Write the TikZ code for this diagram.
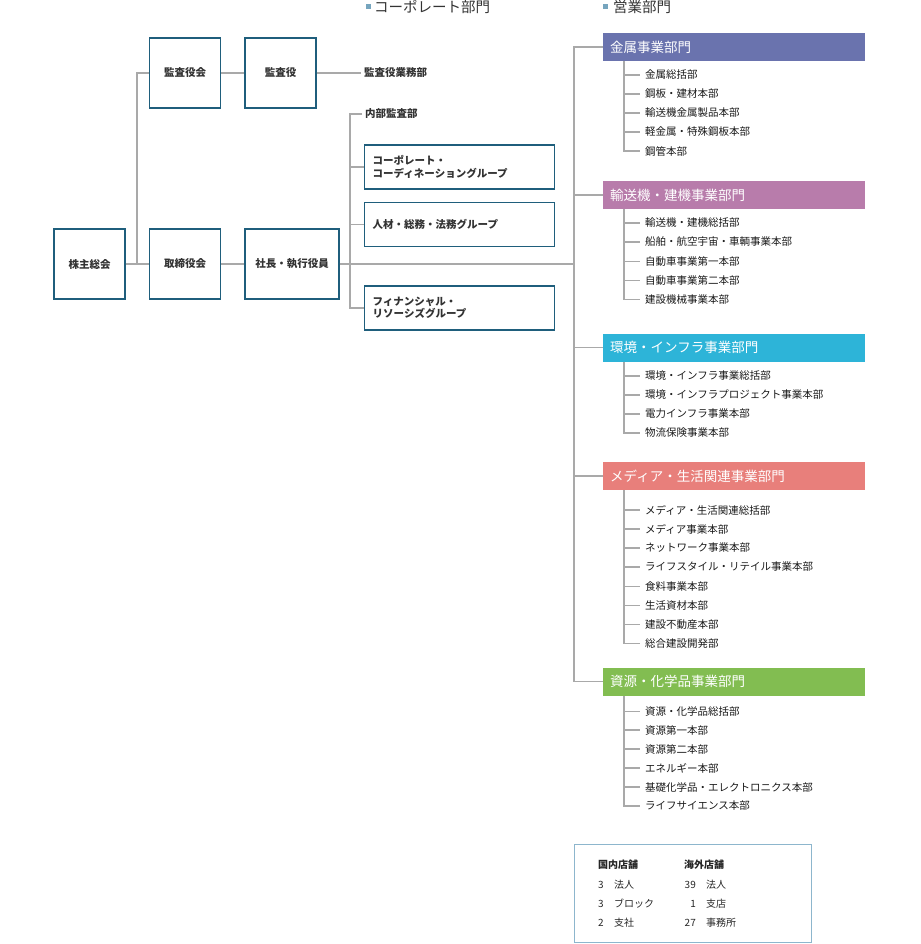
\documentclass[tikz,border=0pt]{standalone}
\usepackage{fontspec}
\setmainfont{Noto Sans CJK JP}
\usetikzlibrary{positioning}

\definecolor{boxblue}{HTML}{1F5E7C}
\definecolor{linegray}{HTML}{A9A9A9}
\definecolor{metalc}{HTML}{6A73AE}
\definecolor{transc}{HTML}{B87CAB}
\definecolor{envc}{HTML}{2DB4D8}
\definecolor{mediac}{HTML}{E87F7B}
\definecolor{chemc}{HTML}{82BD51}
\definecolor{markc}{HTML}{76A5BE}
\definecolor{notec}{HTML}{8DB6CD}

\tikzset{
  orgbox/.style={draw=boxblue, line width=1.4pt, fill=white, inner sep=0pt,
    minimum width=71pt, minimum height=70pt, text=black!80,
    font=\bfseries\fontsize{10.5}{12.5}\selectfont},
  groupbox/.style={draw=boxblue, line width=1.4pt, fill=white, anchor=west,
    inner xsep=8pt, inner ysep=0pt, text width=174pt, align=left,
    minimum height=44pt, text=black!80, font=\bfseries\fontsize{10.5}{12.5}\selectfont},
  plainlabel/.style={anchor=west, inner xsep=3pt, inner ysep=0pt, text=black!80,
    font=\bfseries\fontsize{10.5}{12.5}\selectfont},
  divhead/.style={anchor=west, fill=#1, text=white, inner xsep=7pt, inner ysep=0pt,
    text width=248pt, align=left, minimum height=28pt,
    font=\fontsize{13.5}{15}\selectfont},
  unit/.style={anchor=west, inner xsep=5pt, inner ysep=0pt, text=black!90,
    font=\fontsize{10.5}{12}\selectfont},
  title/.style={anchor=west, inner sep=0pt, text=black!80, font=\fontsize{14.5}{16}\selectfont},
  notetext/.style={anchor=west, inner sep=0pt, text=black!85, font=\fontsize{10}{12}\selectfont},
  conn/.style={draw=linegray, line width=1.1pt}
}

\begin{document}
\begin{tikzpicture}[x=1pt, y=-1pt]
  \useasboundingbox (0,0) rectangle (920,944);

  % Section titles
  \fill[markc] (366,4.5) rectangle (371,9.5);
  \node[title] (corptitle) at (374,7) {コーポレート部門};
  \fill[markc] (603,4.5) rectangle (608,9.5);
  \node[title] (salestitle) at (613,7) {営業部門};

  % Governance boxes
  \node[orgbox] (meeting) at (89.5,264) {株主総会};
  \node[orgbox] (board) at (185,264) {取締役会};
  \node[orgbox, minimum width=94pt] (ceo) at (292,264) {社長・執行役員};
  \node[orgbox] (auditboard) at (185,73) {監査役会};
  \node[orgbox] (auditor) at (280.5,73) {監査役};
  \node[plainlabel] (auditoffice) at (361,73) {監査役業務部};

  \draw[conn] (meeting.east) -- (board.west);
  \draw[conn] (137,264) |- (auditboard.west);
  \draw[conn] (auditboard.east) -- (auditor.west);
  \draw[conn] (auditor.east) -- (auditoffice.west);
  \draw[conn] (board.east) -- (ceo.east -| ceo.west);

  % Corporate departments
  \node[plainlabel] (internal) at (362,114) {内部監査部};
  \node[groupbox] (coord) at (364,167) {コーポレート・\\コーディネーショングループ};
  \node[groupbox] (hr) at (364,224.5) {人材・総務・法務グループ};
  \node[groupbox] (finance) at (364,308) {フィナンシャル・\\リソーシズグループ};

  \coordinate (cv) at (350,0);
  \draw[conn] (internal.west) -| (cv |- finance.west) -- (finance.west);
  \draw[conn] (cv |- coord.west) -- (coord.west);
  \draw[conn] (cv |- hr.west) -- (hr.west);

  % Sales divisions
  \node[divhead=metalc] (metal) at (603,47) {金属事業部門};
  \node[divhead=transc] (trans) at (603,195) {輸送機・建機事業部門};
  \node[divhead=envc] (env) at (603,347.5) {環境・インフラ事業部門};
  \node[divhead=mediac] (media) at (603,476) {メディア・生活関連事業部門};
  \node[divhead=chemc] (chem) at (603,681.5) {資源・化学品事業部門};

  \coordinate (sv) at (574,0);
  \draw[conn] (ceo.east) -- (sv |- ceo.east);
  \draw[conn] (metal.west) -| (sv |- chem.west) -- (chem.west);
  \draw[conn] (sv |- trans.west) -- (trans.west);
  \draw[conn] (sv |- env.west) -- (env.west);
  \draw[conn] (sv |- media.west) -- (media.west);

  \coordinate (uv) at (624,0);

  % 金属
  \node[unit] (m1) at (640,75) {金属総括部};
  \node[unit] (m2) at (640,94) {鋼板・建材本部};
  \node[unit] (m3) at (640,113) {輸送機金属製品本部};
  \node[unit] (m4) at (640,132) {軽金属・特殊鋼板本部};
  \node[unit] (m5) at (640,151) {鋼管本部};
  \draw[conn] (uv |- metal.south) |- (m5.west);
  \draw[conn] (uv |- m1.west) -- (m1.west);
  \draw[conn] (uv |- m2.west) -- (m2.west);
  \draw[conn] (uv |- m3.west) -- (m3.west);
  \draw[conn] (uv |- m4.west) -- (m4.west);

  % 輸送機・建機
  \node[unit] (t1) at (640,223) {輸送機・建機総括部};
  \node[unit] (t2) at (640,242) {船舶・航空宇宙・車輌事業本部};
  \node[unit] (t3) at (640,261.5) {自動車事業第一本部};
  \node[unit] (t4) at (640,280.5) {自動車事業第二本部};
  \node[unit] (t5) at (640,299.5) {建設機械事業本部};
  \draw[conn] (uv |- trans.south) |- (t5.west);
  \draw[conn] (uv |- t1.west) -- (t1.west);
  \draw[conn] (uv |- t2.west) -- (t2.west);
  \draw[conn] (uv |- t3.west) -- (t3.west);
  \draw[conn] (uv |- t4.west) -- (t4.west);

  % 環境・インフラ
  \node[unit] (e1) at (640,376) {環境・インフラ事業総括部};
  \node[unit] (e2) at (640,395) {環境・インフラプロジェクト事業本部};
  \node[unit] (e3) at (640,414) {電力インフラ事業本部};
  \node[unit] (e4) at (640,433) {物流保険事業本部};
  \draw[conn] (uv |- env.south) |- (e4.west);
  \draw[conn] (uv |- e1.west) -- (e1.west);
  \draw[conn] (uv |- e2.west) -- (e2.west);
  \draw[conn] (uv |- e3.west) -- (e3.west);

  % メディア・生活関連
  \node[unit] (d1) at (640,510) {メディア・生活関連総括部};
  \node[unit] (d2) at (640,529) {メディア事業本部};
  \node[unit] (d3) at (640,548) {ネットワーク事業本部};
  \node[unit] (d4) at (640,567) {ライフスタイル・リテイル事業本部};
  \node[unit] (d5) at (640,586.5) {食料事業本部};
  \node[unit] (d6) at (640,605.5) {生活資材本部};
  \node[unit] (d7) at (640,624.5) {建設不動産本部};
  \node[unit] (d8) at (640,643.5) {総合建設開発部};
  \draw[conn] (uv |- media.south) |- (d8.west);
  \draw[conn] (uv |- d1.west) -- (d1.west);
  \draw[conn] (uv |- d2.west) -- (d2.west);
  \draw[conn] (uv |- d3.west) -- (d3.west);
  \draw[conn] (uv |- d4.west) -- (d4.west);
  \draw[conn] (uv |- d5.west) -- (d5.west);
  \draw[conn] (uv |- d6.west) -- (d6.west);
  \draw[conn] (uv |- d7.west) -- (d7.west);

  % 資源・化学品
  \node[unit] (c1) at (640,711.5) {資源・化学品総括部};
  \node[unit] (c2) at (640,730) {資源第一本部};
  \node[unit] (c3) at (640,749) {資源第二本部};
  \node[unit] (c4) at (640,768) {エネルギー本部};
  \node[unit] (c5) at (640,787) {基礎化学品・エレクトロニクス本部};
  \node[unit] (c6) at (640,806) {ライフサイエンス本部};
  \draw[conn] (uv |- chem.south) |- (c6.west);
  \draw[conn] (uv |- c1.west) -- (c1.west);
  \draw[conn] (uv |- c2.west) -- (c2.west);
  \draw[conn] (uv |- c3.west) -- (c3.west);
  \draw[conn] (uv |- c4.west) -- (c4.west);
  \draw[conn] (uv |- c5.west) -- (c5.west);

  % Branch network box
  \node[draw=notec, line width=1.5pt, minimum width=237pt, minimum height=98pt, inner sep=0pt]
    (network) at (693,893.5) {};
  \node[notetext, font=\bfseries\fontsize{10}{12}\selectfont] (domhead) at (598,865) {国内店舗};
  \node[notetext, font=\bfseries\fontsize{10}{12}\selectfont] (ovhead) at (684,865) {海外店舗};
  \node[notetext] (dn1) at (598,885) {3};
  \node[notetext] (dl1) at (614,885) {法人};
  \node[notetext] (dn2) at (598,904) {3};
  \node[notetext] (dl2) at (614,904) {ブロック};
  \node[notetext] (dn3) at (598,923) {2};
  \node[notetext] (dl3) at (614,923) {支社};
  \node[notetext, anchor=east] (on1) at (696,885) {39};
  \node[notetext] (ol1) at (706,885) {法人};
  \node[notetext, anchor=east] (on2) at (696,904) {1};
  \node[notetext] (ol2) at (706,904) {支店};
  \node[notetext, anchor=east] (on3) at (696,923) {27};
  \node[notetext] (ol3) at (706,923) {事務所};
\end{tikzpicture}
\end{document}
